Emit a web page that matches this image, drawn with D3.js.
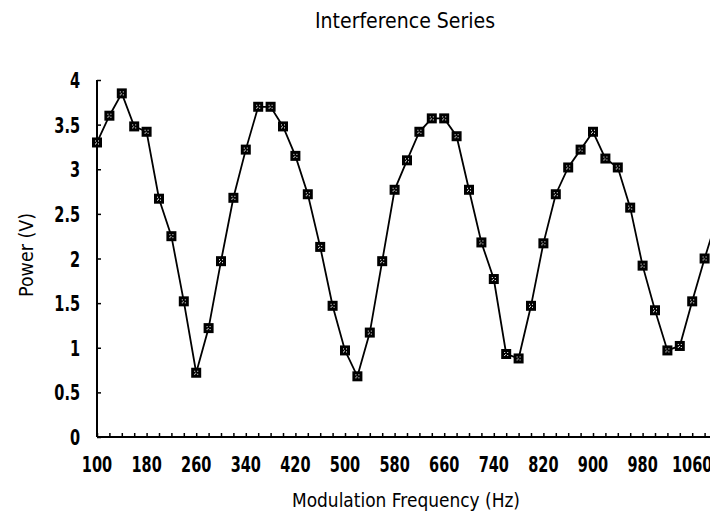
<!DOCTYPE html>
<html>
<head>
<meta charset="utf-8">
<script src="https://cdn.jsdelivr.net/npm/d3@7"></script>
<style>
  body { margin: 0; background: #fff; }
  svg { display: block; }
  text { font-family: "DejaVu Sans", sans-serif; fill: #000; }
</style>
</head>
<body>
<div id="chart"></div>
<script>
// measured data
var freq = [100, 120, 140, 160, 180, 200, 220, 240, 260, 280,
            300, 320, 340, 360, 380, 400, 420, 440, 460, 480,
            500, 520, 540, 560, 580, 600, 620, 640, 660, 680,
            700, 720, 740, 760, 780, 800, 820, 840, 860, 880,
            900, 920, 940, 960, 980, 1000, 1020, 1040, 1060, 1080, 1100];
var power = [3.3, 3.6, 3.85, 3.48, 3.42, 2.67, 2.25, 1.52, 0.72, 1.22,
             1.97, 2.68, 3.22, 3.7, 3.7, 3.48, 3.15, 2.72, 2.13, 1.47,
             0.97, 0.68, 1.17, 1.97, 2.77, 3.1, 3.42, 3.57, 3.57, 3.37,
             2.77, 2.18, 1.77, 0.93, 0.88, 1.47, 2.17, 2.72, 3.02, 3.22,
             3.42, 3.12, 3.02, 2.57, 1.92, 1.42, 0.97, 1.02, 1.52, 2.0, 2.45];

var xLabels = [100, 180, 260, 340, 420, 500, 580, 660, 740, 820, 900, 980, 1060];
var yLabels = [0, 0.5, 1, 1.5, 2, 2.5, 3, 3.5, 4];

var width = 710, height = 517;
var squeeze = 0.66;   // the old plotter font is tall and narrow

var svg = d3.select('#chart').append('svg')
    .attr('width', width)
    .attr('height', height);

var x = d3.scaleLinear().domain([100, 1100]).range([97, 717]);
var y = d3.scaleLinear().domain([0, 4]).range([437, 80]);

// title
svg.append('text')
    .attr('x', 405).attr('y', 28)
    .attr('text-anchor', 'middle')
    .attr('font-size', 21)
    .attr('textLength', 180)
    .attr('lengthAdjust', 'spacingAndGlyphs')
    .text('Interference Series');

// x axis: minor ticks every 20 Hz pointing inward
var xAxis = svg.append('g')
    .attr('transform', 'translate(0,' + y(0) + ')')
    .call(d3.axisBottom(x)
        .tickValues(d3.range(100, 1101, 20))
        .tickSize(-4)
        .tickFormat(''));
xAxis.select('.domain').attr('d', 'M' + x(100) + ',0H' + width).attr('stroke-width', 2);
xAxis.selectAll('.tick line').attr('stroke-width', 1.5);

// x labels
svg.append('g')
    .selectAll('g')
    .data(xLabels)
    .enter()
    .append('g')
        .attr('transform', function(d) { return 'translate(' + x(d) + ',472) scale(' + squeeze + ',1)'; })
    .append('text')
        .attr('text-anchor', 'middle')
        .attr('font-size', 22)
        .attr('font-weight', 'bold')
        .text(function(d) { return d; });

// y axis
var yAxis = svg.append('g')
    .attr('transform', 'translate(' + x(100) + ',0)')
    .call(d3.axisLeft(y)
        .tickValues(yLabels)
        .tickSize(-4)
        .tickFormat(''));
yAxis.select('.domain').attr('d', 'M0,' + y(4) + 'V' + y(0)).attr('stroke-width', 2);
yAxis.selectAll('.tick line').attr('stroke-width', 1.5);

svg.append('g')
    .selectAll('g')
    .data(yLabels)
    .enter()
    .append('g')
        .attr('transform', function(d) { return 'translate(80,' + (y(d) + 8) + ') scale(' + squeeze + ',1)'; })
    .append('text')
        .attr('text-anchor', 'end')
        .attr('font-size', 22)
        .attr('font-weight', 'bold')
        .text(function(d) { return d; });

// axis titles
svg.append('text')
    .attr('x', 406).attr('y', 507)
    .attr('text-anchor', 'middle')
    .attr('font-size', 20)
    .attr('textLength', 228)
    .attr('lengthAdjust', 'spacingAndGlyphs')
    .text('Modulation Frequency (Hz)');

svg.append('text')
    .attr('transform', 'translate(33,255) rotate(-90)')
    .attr('text-anchor', 'middle')
    .attr('font-size', 20)
    .attr('textLength', 84)
    .attr('lengthAdjust', 'spacingAndGlyphs')
    .text('Power (V)');

// series
var pts = freq.map(function(f, i) { return [f, power[i]]; });

var line = d3.line()
    .x(function(d) { return x(d[0]); })
    .y(function(d) { return y(d[1]); });

svg.append('path')
    .datum(pts)
    .attr('d', line)
    .attr('fill', 'none')
    .attr('stroke', '#000')
    .attr('stroke-width', 1.8);

var marks = svg.append('g')
    .selectAll('g')
    .data(pts)
    .enter()
    .append('g')
        .attr('transform', function(d) { return 'translate(' + x(d[0]) + ',' + y(d[1]) + ')'; });

marks.append('rect')
    .attr('x', -5).attr('y', -5)
    .attr('width', 10).attr('height', 10)
    .attr('fill', '#000');

// little white speckles inside each marker
[[-2, -2], [1, -2], [-1, 0], [-2, 1], [1, 1]].forEach(function(o) {
    marks.append('rect')
        .attr('x', o[0]).attr('y', o[1])
        .attr('width', 1).attr('height', 1)
        .attr('fill', '#fff');
});
</script>
</body>
</html>
